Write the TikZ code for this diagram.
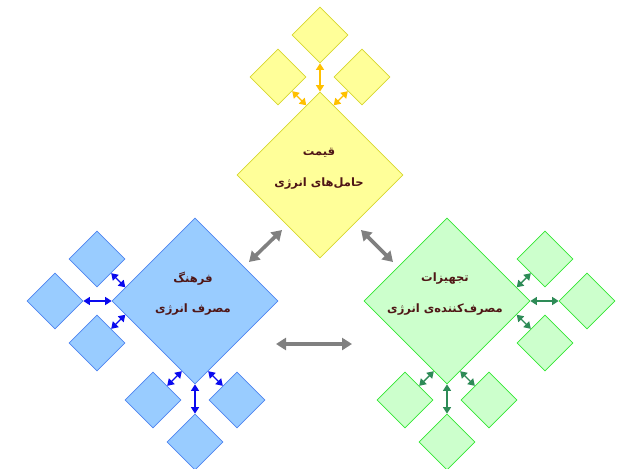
\documentclass[tikz,border=0pt]{standalone}
\usepackage{fontspec}
\usetikzlibrary{shapes.geometric,arrows.meta,calc}
\TeXXeTstate=1
\newfontfamily\fafont[Script=Arabic]{DejaVu Sans}
\definecolor{yfill}{HTML}{FFFF99}
\definecolor{yline}{HTML}{D6D62E}
\definecolor{yarrow}{HTML}{FFC000}
\definecolor{bfill}{HTML}{99CCFF}
\definecolor{bline}{HTML}{4F84F0}
\definecolor{barrow}{HTML}{0A0AEE}
\definecolor{gfill}{HTML}{CCFFCC}
\definecolor{gline}{HTML}{33E633}
\definecolor{garrow}{HTML}{2E8B57}
\definecolor{linkgray}{HTML}{808080}
\definecolor{labelcol}{HTML}{4F1616}
\tikzset{
  bigbox/.style={diamond, aspect=1, minimum size=166pt, inner sep=0pt, line width=0.7pt},
  smallbox/.style={diamond, aspect=1, minimum size=56pt, inner sep=0pt, line width=0.7pt},
  ystyle/.style={draw=yline, fill=yfill},
  bstyle/.style={draw=bline, fill=bfill},
  gstyle/.style={draw=gline, fill=gfill},
  link/.style={{Triangle[length=6.5pt,width=8pt]}-{Triangle[length=6.5pt,width=8pt]}, line width=1.4pt},
  biglink/.style={{Triangle[length=10pt,width=12pt]}-{Triangle[length=10pt,width=12pt]}, line width=3.6pt, draw=linkgray},
  label/.style={font=\fafont\bfseries\fontsize{11.5}{14}\selectfont, text=labelcol, inner sep=0pt}
}
\begin{document}
\begin{tikzpicture}[x=1pt,y=-1pt]
\useasboundingbox (0,0) rectangle (617,468);

% main diamonds
\node[bigbox, ystyle] (Y) at (320,175) {};
\node[bigbox, bstyle] (B) at (195,301) {};
\node[bigbox, gstyle] (G) at (447,301) {};

% satellites of the price diamond
\node[smallbox, ystyle] (Y1) at (278,77) {};
\node[smallbox, ystyle] (Y2) at (320,35) {};
\node[smallbox, ystyle] (Y3) at (362,77) {};

% satellites of the culture diamond
\node[smallbox, bstyle] (B1) at (97,259) {};
\node[smallbox, bstyle] (B2) at (55,301) {};
\node[smallbox, bstyle] (B3) at (97,343) {};
\node[smallbox, bstyle] (B4) at (153,400) {};
\node[smallbox, bstyle] (B5) at (195,442) {};
\node[smallbox, bstyle] (B6) at (237,400) {};

% satellites of the equipment diamond
\node[smallbox, gstyle] (G1) at (545,259) {};
\node[smallbox, gstyle] (G2) at (587,301) {};
\node[smallbox, gstyle] (G3) at (545,343) {};
\node[smallbox, gstyle] (G4) at (405,400) {};
\node[smallbox, gstyle] (G5) at (447,442) {};
\node[smallbox, gstyle] (G6) at (489,400) {};

% labels
\node[label] (Yt1) at (319,153) {\beginR قیمت\endR};
\node[label] (Yt2) at (319,184) {\beginR حامل‌های انرژی\endR};
\node[label] (Bt1) at (193,279) {\beginR فرهنگ\endR};
\node[label] (Bt2) at (193,310) {\beginR مصرف انرژی\endR};
\node[label] (Gt1) at (445,279) {\beginR تجهیزات\endR};
\node[label] (Gt2) at (445,310) {\beginR مصرف‌کننده‌ی انرژی\endR};

% satellite links, each perpendicular to the facing edges
\draw[link, yarrow] (Y1.south east) -- ($(Y.west)!(Y1.south east)!(Y.north)$);
\draw[link, yarrow] (Y2.south) -- (Y.north);
\draw[link, yarrow] (Y3.south west) -- ($(Y.east)!(Y3.south west)!(Y.north)$);

\draw[link, barrow] (B1.south east) -- ($(B.west)!(B1.south east)!(B.north)$);
\draw[link, barrow] (B2.east) -- (B.west);
\draw[link, barrow] (B3.north east) -- ($(B.west)!(B3.north east)!(B.south)$);
\draw[link, barrow] (B4.north east) -- ($(B.west)!(B4.north east)!(B.south)$);
\draw[link, barrow] (B5.north) -- (B.south);
\draw[link, barrow] (B6.north west) -- ($(B.east)!(B6.north west)!(B.south)$);

\draw[link, garrow] (G1.south west) -- ($(G.east)!(G1.south west)!(G.north)$);
\draw[link, garrow] (G2.west) -- (G.east);
\draw[link, garrow] (G3.north west) -- ($(G.east)!(G3.north west)!(G.south)$);
\draw[link, garrow] (G4.north east) -- ($(G.west)!(G4.north east)!(G.south)$);
\draw[link, garrow] (G5.north) -- (G.south);
\draw[link, garrow] (G6.north west) -- ($(G.east)!(G6.north west)!(G.south)$);

% links between the three main diamonds
\coordinate (YB1) at (249,262);
\coordinate (YB2) at (282,230);
\coordinate (YG1) at (361,230);
\coordinate (YG2) at (393,262);
\coordinate (BG1) at (276,344);
\coordinate (BG2) at (352,344);
\draw[biglink] (YB1) -- (YB2);
\draw[biglink] (YG1) -- (YG2);
\draw[biglink] (BG1) -- (BG2);
\end{tikzpicture}
\end{document}
